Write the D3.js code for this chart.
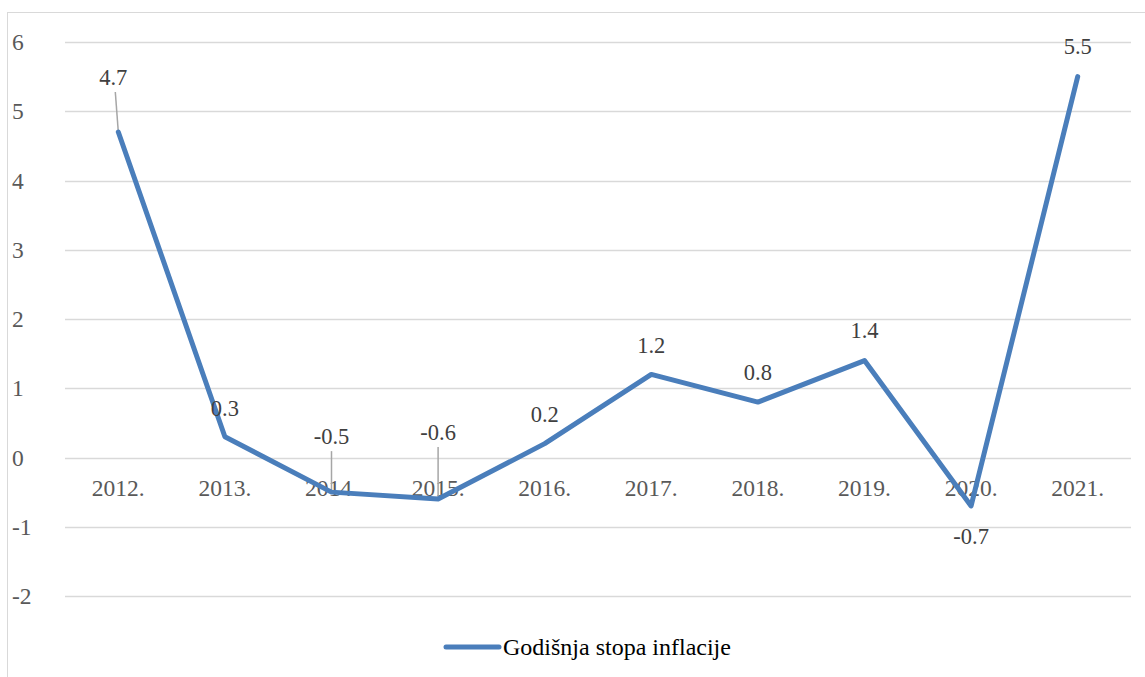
<!DOCTYPE html>
<html>
<head>
<meta charset="utf-8">
<script src="https://cdn.jsdelivr.net/npm/d3@7"></script>
<style>
  body { margin: 0; background: #fff; }
</style>
</head>
<body>
<script>
// data
const years = ['2012.', '2013.', '2014.', '2015.', '2016.', '2017.', '2018.', '2019.', '2020.', '2021.'];
const inflation = [4.7, 0.3, -0.5, -0.6, 0.2, 1.2, 0.8, 1.4, -0.7, 5.5];
const yTicks = [-2, -1, 0, 1, 2, 3, 4, 5, 6];
const seriesName = 'Godišnja stopa inflacije';

// label placement per point: [dx, dy, leader line?, leader start dx]
const labelPos = [
  [-5, -55, true, 2], [0, -29, false, 0], [0, -56, true, 0], [0, -67, true, 0], [0, -30, false, 0],
  [0, -29, false, 0], [0, -30, false, 0], [0, -30, false, 0], [0, 30, false, 0], [0, -31, false, 0]
];

const width = 1145;
const height = 677;
const margin = { left: 65, right: 14, top: 42, bottom: 81 };
const serif = 'Liberation Serif';

const svg = d3.select('body').append('svg')
  .attr('width', width)
  .attr('height', height);

// chart border
svg.append('rect')
  .attr('x', 7.5).attr('y', 12.5)
  .attr('width', 1150).attr('height', 680)
  .attr('fill', 'none')
  .attr('stroke', '#d9d9d9');

const x = d3.scaleBand()
  .domain(years)
  .range([margin.left, width - margin.right]);

const y = d3.scaleLinear()
  .domain([-2, 6])
  .range([596, margin.top]);

// gridlines
svg.append('g')
  .selectAll('line')
  .data(yTicks)
  .join('line')
  .attr('x1', margin.left)
  .attr('x2', width - margin.right)
  .attr('y1', (d) => Math.round(y(d)) + 0.5)
  .attr('y2', (d) => Math.round(y(d)) + 0.5)
  .attr('stroke', '#d9d9d9')
  .attr('stroke-width', 1.5);

// y labels
svg.append('g')
  .selectAll('text')
  .data(yTicks)
  .join('text')
  .attr('x', 12)
  .attr('y', (d) => y(d))
  .attr('dy', '0.35em')
  .style('font-family', serif)
  .attr('font-size', 23.5)
  .attr('fill', '#595959')
  .text((d) => d);

// x labels sit under the zero line
svg.append('g')
  .selectAll('text')
  .data(years)
  .join('text')
  .attr('x', (d) => x(d) + x.bandwidth() / 2)
  .attr('y', y(0) + 38)
  .attr('text-anchor', 'middle')
  .style('font-family', serif)
  .attr('font-size', 23.5)
  .attr('fill', '#595959')
  .text((d) => d);

const px = (i) => x(years[i]) + x.bandwidth() / 2;

// leader lines
svg.append('g')
  .selectAll('line')
  .data(inflation.map((v, i) => i).filter((i) => labelPos[i][2]))
  .join('line')
  .attr('x1', (i) => px(i) + labelPos[i][0] + labelPos[i][3])
  .attr('y1', (i) => y(inflation[i]) + labelPos[i][1] + 15)
  .attr('x2', (i) => px(i))
  .attr('y2', (i) => y(inflation[i]))
  .attr('stroke', '#a6a6a6')
  .attr('stroke-width', 1.5);

// series line
const line = d3.line()
  .x((d, i) => px(i))
  .y((d) => y(d));

svg.append('path')
  .datum(inflation)
  .attr('d', line)
  .attr('fill', 'none')
  .attr('stroke', '#4a7ebb')
  .attr('stroke-width', 5)
  .attr('stroke-linejoin', 'round')
  .attr('stroke-linecap', 'round');

// data labels
svg.append('g')
  .selectAll('text')
  .data(inflation)
  .join('text')
  .attr('x', (d, i) => px(i) + labelPos[i][0])
  .attr('y', (d, i) => y(d) + labelPos[i][1])
  .attr('dy', '0.35em')
  .attr('text-anchor', 'middle')
  .style('font-family', serif)
  .attr('font-size', 22.5)
  .attr('fill', '#404040')
  .text((d) => d);

// legend
const legend = svg.append('g').attr('transform', 'translate(446,647)');
legend.append('line')
  .attr('x1', 0).attr('x2', 53)
  .attr('stroke', '#4a7ebb')
  .attr('stroke-width', 5)
  .attr('stroke-linecap', 'round');
legend.append('text')
  .attr('x', 57)
  .attr('dy', '0.35em')
  .style('font-family', serif)
  .attr('font-size', 24)
  .attr('fill', '#000')
  .text(seriesName);
</script>
</body>
</html>
